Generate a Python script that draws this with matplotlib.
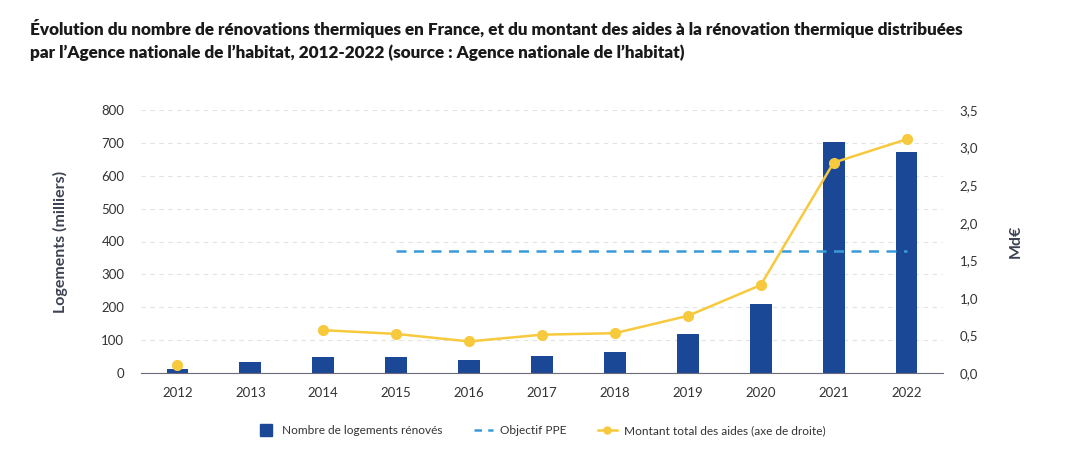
import matplotlib
matplotlib.use("Agg")
import matplotlib.pyplot as plt
import numpy as np
from matplotlib.lines import Line2D

years = ["2012", "2013", "2014", "2015", "2016", "2017", "2018", "2019", "2020", "2021", "2022"]
logements = [13, 32, 50, 50, 40, 53, 63, 118, 210, 702, 671]
aides = [0.10, np.nan, 0.57, 0.52, 0.42, 0.51, 0.53, 0.76, 1.17, 2.80, 3.11]
objectif_years = ["2015", "2022"]
objectif_value = 370

left_ticks = [0, 100, 200, 300, 400, 500, 600, 700, 800]
right_ticks = ["0,0", "0,5", "1,0", "1,5", "2,0", "2,5", "3,0", "3,5"]

BLUE = "#1a4796"
YELLOW = "#f7c93c"
DASH = "#3a9ad9"
TXT = "#333333"

plt.rcParams["font.family"] = ["Lato", "DejaVu Sans"]

fig = plt.figure(figsize=(10.9, 4.67), dpi=100)
ax = fig.add_axes([141/1090, 1-373/467, (943-141)/1090, (373-110)/467])
x = np.arange(len(years))

ax.set_axisbelow(True)
ax.yaxis.grid(True, color="#e3e3e3", linestyle=(0, (4, 4)), linewidth=0.8)
ax.bar(x, logements, width=0.3, color=BLUE, zorder=2)
ox = [years.index(y) for y in objectif_years]
ax.plot(ox, [objectif_value]*2, color=DASH, linestyle=(0, (4, 3)), linewidth=1.8, zorder=3)

ax.set_xlim(-0.5, len(years)-0.5)
ax.set_ylim(0, 800)
ax.set_yticks(left_ticks)
ax.set_yticklabels([str(t) for t in left_ticks])
ax.set_xticks(x)
ax.set_xticklabels(years)
for s in ["top", "right", "left"]:
    ax.spines[s].set_visible(False)
ax.spines["bottom"].set_color("#6b6b7b")
ax.tick_params(axis="both", length=0, labelsize=9.5, labelcolor=TXT)
ax.tick_params(axis="x", pad=10)
ax.tick_params(axis="y", pad=12)
ax.set_ylabel("Logements (milliers)", fontsize=11.5, fontweight="bold", color="#3d4352", labelpad=24)

ax2 = ax.twinx()
ax2.plot(x, aides, color=YELLOW, linewidth=1.8, marker="o", markersize=7, zorder=4)
ax2.set_ylim(0, 3.5)
ax2.set_yticks(np.arange(0, 3.51, 0.5))
ax2.set_yticklabels(right_ticks)
for s in ["top", "right", "left", "bottom"]:
    ax2.spines[s].set_visible(False)
ax2.tick_params(axis="y", length=0, labelsize=9.5, labelcolor=TXT, pad=12)
ax2.set_ylabel("Md€", fontsize=11.5, fontweight="bold", color="#3d4352", labelpad=22)

fig.text(30/1090, 1-40/467, "Évolution du nombre de rénovations thermiques en France, et du montant des aides à la rénovation thermique distribuées\npar l’Agence nationale de l’habitat, 2012-2022 (source : Agence nationale de l’habitat)",
         fontsize=12.35, fontweight="heavy", color="#1a1a1a", va="center", ha="left", linespacing=1.45)

handles = [Line2D([0], [0], color=BLUE, marker="s", linestyle="none", markersize=8),
           Line2D([0], [0], color=DASH, linestyle=(0, (3, 2.5)), linewidth=1.8),
           Line2D([0], [0], color=YELLOW, linewidth=1.8, marker="o", markersize=5)]
labels = ["Nombre de logements rénovés", "Objectif PPE", "Montant total des aides (axe de droite)"]
fig.legend(handles, labels, loc="center", bbox_to_anchor=(541/1090, 1-431/467), ncol=3, frameon=False,
           fontsize=8.6, handlelength=1.6, columnspacing=2.6, handletextpad=0.6, labelcolor=TXT)

fig.savefig("out.png", dpi=100)
